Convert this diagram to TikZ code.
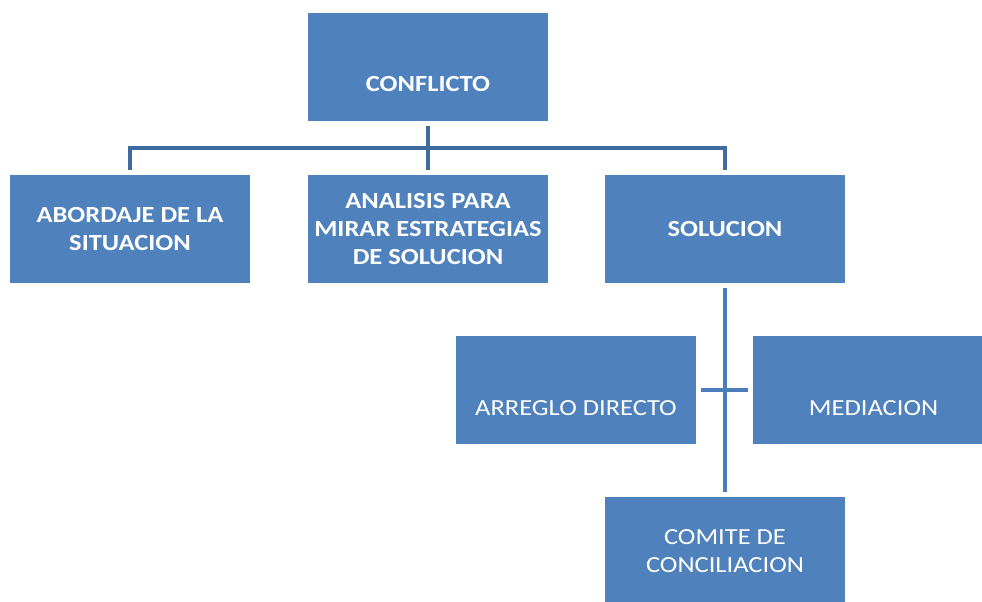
\documentclass[tikz,border=0pt]{standalone}
\usepackage{fontspec}
\newfontfamily\boxfont[FakeStretch=1.15]{Carlito}
\pgfdeclarelayer{edgelayer}
\pgfdeclarelayer{nodelayer}
\pgfsetlayers{edgelayer,nodelayer,main}
\definecolor{boxblue}{HTML}{4F81BD}
\definecolor{topline}{HTML}{3F6B9E}
\definecolor{lowline}{HTML}{4A7DBA}
\tikzset{font=\boxfont\fontsize{16.4}{19.9}\selectfont}
\tikzstyle{none}=[inner sep=0pt]
\tikzstyle{box}=[rectangle,fill=boxblue,minimum width=6cm,minimum height=2.7cm,inner sep=0pt,outer sep=0.125cm,text=white,align=center]
\tikzstyle{bbox}=[box,font=\boxfont\bfseries\fontsize{16.4}{19.9}\selectfont]
\tikzstyle{txt}=[inner sep=0pt,text=white,align=center]
\tikzstyle{btxt}=[txt,font=\boxfont\bfseries\fontsize{16.4}{19.9}\selectfont]
\tikzstyle{conn}=[line width=0.1cm]

\begin{document}
\begin{tikzpicture}
	\useasboundingbox (0,0) rectangle (24.55,-15.025);
	\clip (0,0) rectangle (24.55,-15.025);
	\begin{pgfonlayer}{nodelayer}
		\node [style=bbox] (0) at (10.7, -1.675) {};
		\node [style=btxt] (1) at (10.7, -2.1) {CONFLICTO};
		\node [style=bbox] (2) at (3.25, -5.725) {ABORDAJE DE LA\\SITUACION};
		\node [style=bbox] (3) at (10.7, -5.725) {ANALISIS PARA\\MIRAR ESTRATEGIAS\\DE SOLUCION};
		\node [style=bbox] (4) at (18.125, -5.725) {SOLUCION};
		\node [style=box] (5) at (14.4, -9.75) {};
		\node [style=txt] (6) at (14.4, -10.2) {ARREGLO DIRECTO};
		\node [style=box] (7) at (21.825, -9.75) {};
		\node [style=txt] (8) at (21.84, -10.2) {MEDIACION};
		\node [style=box] (9) at (18.125, -13.775) {COMITE DE\\CONCILIACION};
		\coordinate (10) at (10.7, -3.7);
	\end{pgfonlayer}
	\begin{pgfonlayer}{edgelayer}
		\draw[style=conn, draw=topline] (0.south) to (3.north);
		\draw[style=conn, draw=topline] (2.north) |- (10) -| (4.north);
		\draw[style=conn, draw=lowline] (4.south) to (9.north);
		\draw[style=conn, draw=lowline] (5.east) to (7.west);
	\end{pgfonlayer}
\end{tikzpicture}
\end{document}
